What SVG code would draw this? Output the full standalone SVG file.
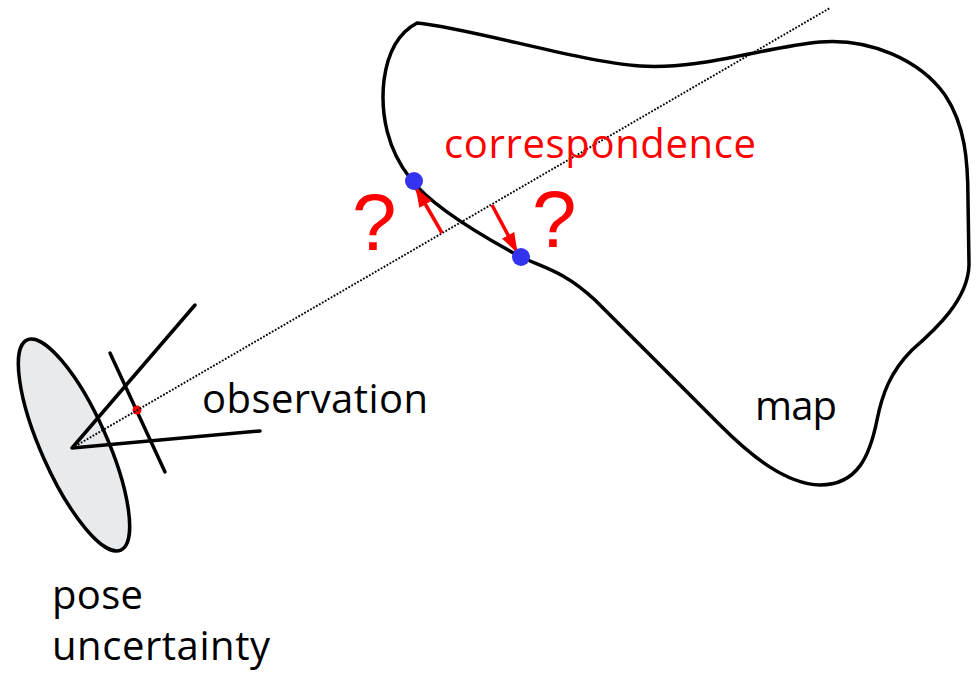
<svg xmlns="http://www.w3.org/2000/svg" width="977" height="673" viewBox="0 0 977 673">
<style>
.stk{fill:none;stroke:#000;stroke-width:3.5;stroke-linecap:round;stroke-linejoin:round}
.lbl{font-family:"Open Sans","Liberation Sans",sans-serif;font-size:40px;fill:#000}
.red{fill:#ff0000}
.q{font-family:"Liberation Sans",Arial,sans-serif;font-size:80px;fill:#ff0000}
.pt{fill:#3434f0}
.arr{stroke:#ff0000;stroke-width:3.5;fill:none}
</style>
<defs>
<marker id="ah" viewBox="0 0 20 14" refX="19" refY="7" markerWidth="20" markerHeight="14" markerUnits="userSpaceOnUse" orient="auto">
<path d="M0,0 L20,7 L0,14 Z" fill="#ff0000"/>
</marker>
</defs>
<rect width="977" height="673" fill="#fff"/>
<g id="map">
<path class="stk" d="M417,23 C470,28 580,62 640,66 C700,70 760,48 820,42 C870,38 920,60 945,95 C965,125 968,160 968,200 L969,265 C968,300 935,330 912,350 C890,372 882,395 877,420 C870,455 858,485 820,485 C785,484 750,455 720,425 C680,385 625,330 595,300 C565,272 545,268 521,257 C480,235 430,205 410,178 C388,150 380,115 384,80 C388,50 400,32 417,23 Z"/>
<text class="lbl" x="755" y="420" textLength="82">map</text>
</g>
<g id="pose">
<ellipse cx="74" cy="445" rx="115" ry="33" transform="rotate(66 74 445)" fill="#e8ebed" stroke="#000" stroke-width="3.5"/>
<text class="lbl" x="52" y="609" textLength="91">pose</text>
<text class="lbl" x="52" y="660" textLength="218">uncertainty</text>
</g>
<g id="observation">
<path class="stk" d="M195,305 L72,448 L260,431"/>
<line class="stk" x1="110" y1="353" x2="165" y2="472"/>
<circle cx="137" cy="410" r="4.5" class="red"/>
<text class="lbl" x="202" y="413" textLength="226">observation</text>
</g>
<g id="connectors">
<line x1="72" y1="448" x2="830" y2="8" stroke="#000" stroke-width="1.9" stroke-dasharray="1.8 1.6"/>
<line class="arr" x1="442" y1="233" x2="416" y2="188" marker-end="url(#ah)"/>
<line class="arr" x1="492" y1="205" x2="517" y2="252" marker-end="url(#ah)"/>
</g>
<g id="correspondence">
<circle class="pt" cx="414" cy="181" r="9"/>
<circle class="pt" cx="521" cy="257" r="9"/>
<text class="lbl red" x="444" y="158" textLength="312">correspondence</text>
<text class="q" x="352" y="250">?</text>
<text class="q" x="532" y="247">?</text>
</g>
</svg>
